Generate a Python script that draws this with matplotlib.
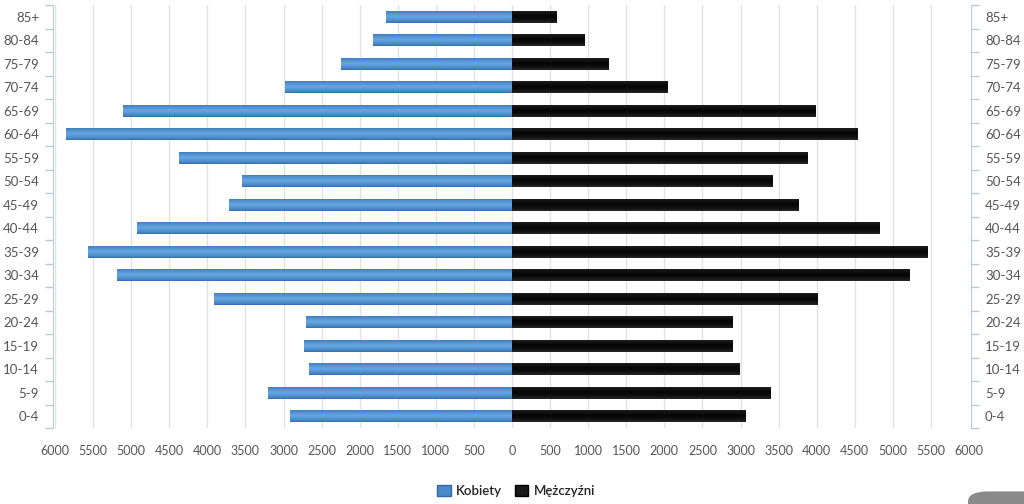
import matplotlib
matplotlib.use("Agg")
import matplotlib.pyplot as plt
import numpy as np
from matplotlib.patches import FancyBboxPatch, Patch

categories = ["0-4", "5-9", "10-14", "15-19", "20-24", "25-29", "30-34", "35-39",
              "40-44", "45-49", "50-54", "55-59", "60-64", "65-69", "70-74",
              "75-79", "80-84", "85+"]
kobiety = [2915, 3200, 2665, 2730, 2705, 3910, 5185, 5565,
           4925, 3715, 3545, 4370, 5855, 5105, 2980, 2245, 1825, 1655]
mezczyzni = [3070, 3400, 2990, 2900, 2900, 4005, 5225, 5460,
             4830, 3755, 3425, 3875, 4540, 3990, 2045, 1270, 955, 590]
xticks = list(range(-6000, 6001, 500))
xticklabels = [str(abs(v)) for v in xticks]

plt.rcParams['font.family'] = ['Lato', 'DejaVu Sans']

fig = plt.figure(figsize=(10.24, 5.04), dpi=100)
ax = fig.add_axes([55/1024, 1-428/504, 914/1024, 423/504])

y = np.arange(len(categories))
h = 0.53

def grad_img(c_edge, c_mid):
    t = np.linspace(0, 1, 64)
    w = 1 - np.abs(t - 0.5) * 2
    w = w ** 0.6
    e = np.array(matplotlib.colors.to_rgb(c_edge))
    m = np.array(matplotlib.colors.to_rgb(c_mid))
    col = e[None, :] * (1 - w[:, None]) + m[None, :] * w[:, None]
    return col[:, None, :].repeat(2, axis=1)

blue_img = grad_img("#2f6aa8", "#66a6e2")
black_img = grad_img("#2a2a2a", "#050505")

bars_k = ax.barh(y, [-v for v in kobiety], height=h, color="#4a8ac8", zorder=2)
bars_m = ax.barh(y, mezczyzni, height=h, color="#111111", zorder=2)

for bars, img in ((bars_k, blue_img), (bars_m, black_img)):
    for b in bars:
        x0, y0 = b.get_x(), b.get_y()
        w_, hh = b.get_width(), b.get_height()
        xs = sorted([x0, x0 + w_])
        im = ax.imshow(img, extent=[xs[0], xs[1], y0, y0 + hh], aspect="auto",
                       origin="lower", zorder=3, interpolation="bilinear")
        im.set_clip_path(b)

ax.set_xlim(-6000, 6000)
ax.set_ylim(-0.5, len(categories) - 0.5)

ax.set_xticks(xticks)
ax.set_xticklabels(xticklabels)
ax.tick_params(axis="x", length=0, pad=12, labelsize=9, labelcolor="#555555")
ax.grid(axis="x", color="#dde3e8", linewidth=1, zorder=0)
ax.set_axisbelow(True)

ax.set_yticks(np.arange(-0.5, len(categories), 1.0))
ax.set_yticklabels([])
ax.set_yticks(y, minor=True)
ax.set_yticklabels(categories, minor=True)
ax.tick_params(axis="y", which="major", length=6, color="#b8ccd8", left=True, right=True, width=1)
ax.tick_params(axis="y", which="minor", length=0, pad=10, labelsize=9.5,
               labelcolor="#555555", left=True, right=True, labelleft=True, labelright=True)

for s in ("top", "bottom"):
    ax.spines[s].set_visible(False)
for s in ("left", "right"):
    ax.spines[s].set_color("#b8ccd8")
    ax.spines[s].set_position(("outward", 1.5))

handles = [Patch(facecolor="#4a8ac8", edgecolor="#2f6aa8", label="Kobiety"),
           Patch(facecolor="#1a1a1a", edgecolor="#000000", label="Mężczyźni")]
fig.legend(handles=handles, loc="center", bbox_to_anchor=(0.504, 0.026), ncol=2,
           frameon=False, prop={"size": 9.5, "weight": "semibold"},
           handlelength=1.0, handleheight=1.0,
           columnspacing=1.0, handletextpad=0.4, labelcolor="#222222")

fig.patches.append(FancyBboxPatch((968/1024, -0.02), 0.1, 0.045,
                                  boxstyle="round,pad=0,rounding_size=0.02",
                                  transform=fig.transFigure, facecolor="#8a8a8a",
                                  edgecolor="none"))

fig.savefig("out.png", dpi=100)
